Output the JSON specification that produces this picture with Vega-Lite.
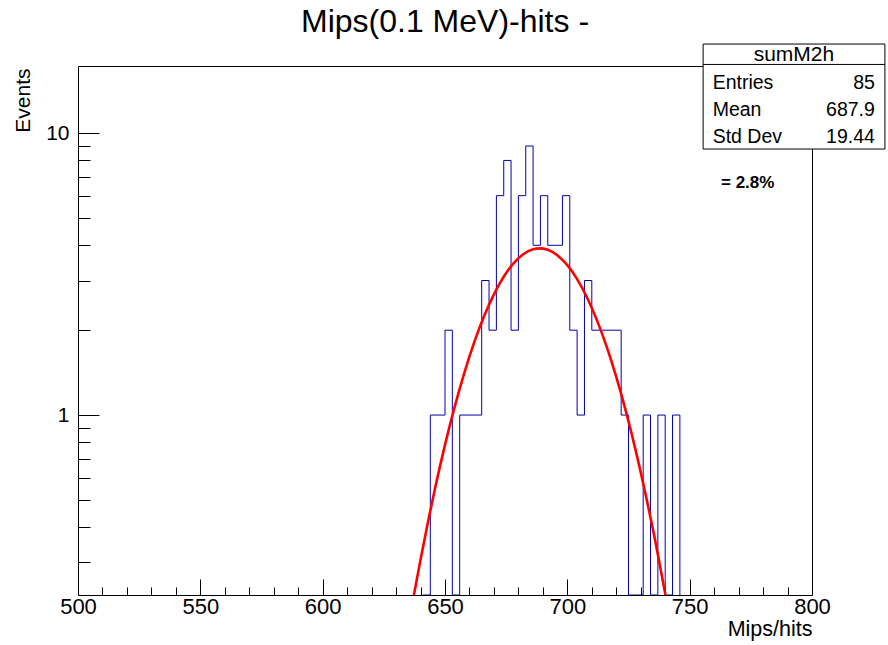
{
  "$schema": "https://vega.github.io/schema/vega-lite/v6.json",
  "autosize": {"type": "none"},
  "width": 734,
  "height": 529,
  "padding": {"left": 78, "top": 66, "right": 76, "bottom": 50},
  "background": "white",
  "title": {
    "text": "Mips(0.1 MeV)-hits -",
    "font": "Liberation Sans",
    "fontSize": 32,
    "fontWeight": "normal",
    "color": "#000000",
    "anchor": "middle",
    "frame": "group",
    "baseline": "alphabetic",
    "offset": 11,
    "dy": 31
  },
  "config": {
    "font": "Liberation Sans",
    "view": {"stroke": "#000000", "strokeWidth": 1}
  },
  "datasets": {
    "bins": [
      {"low": 641, "count": 0},
      {"low": 644, "count": 1},
      {"low": 647, "count": 1},
      {"low": 650, "count": 2},
      {"low": 653, "count": 0},
      {"low": 656, "count": 1},
      {"low": 659, "count": 1},
      {"low": 662, "count": 1},
      {"low": 665, "count": 3},
      {"low": 668, "count": 2},
      {"low": 671, "count": 6},
      {"low": 674, "count": 8},
      {"low": 677, "count": 2},
      {"low": 680, "count": 6},
      {"low": 683, "count": 9},
      {"low": 686, "count": 4},
      {"low": 689, "count": 6},
      {"low": 692, "count": 4},
      {"low": 695, "count": 4},
      {"low": 698, "count": 6},
      {"low": 701, "count": 2},
      {"low": 704, "count": 1},
      {"low": 707, "count": 3},
      {"low": 710, "count": 2},
      {"low": 713, "count": 2},
      {"low": 716, "count": 2},
      {"low": 719, "count": 2},
      {"low": 722, "count": 1},
      {"low": 725, "count": 0},
      {"low": 728, "count": 0},
      {"low": 731, "count": 1},
      {"low": 734, "count": 0},
      {"low": 737, "count": 1},
      {"low": 740, "count": 0},
      {"low": 743, "count": 1},
      {"low": 746, "count": 0}
    ],
    "fit": [
      {"x": 637.3, "f": 0.23},
      {"x": 638, "f": 0.248},
      {"x": 640, "f": 0.307},
      {"x": 643, "f": 0.416},
      {"x": 646, "f": 0.553},
      {"x": 650, "f": 0.784},
      {"x": 654, "f": 1.073},
      {"x": 658, "f": 1.42},
      {"x": 662, "f": 1.817},
      {"x": 666, "f": 2.245},
      {"x": 670, "f": 2.681},
      {"x": 674, "f": 3.094},
      {"x": 678, "f": 3.45},
      {"x": 682, "f": 3.717},
      {"x": 686, "f": 3.87},
      {"x": 688.7, "f": 3.9},
      {"x": 692, "f": 3.855},
      {"x": 696, "f": 3.683},
      {"x": 700, "f": 3.401},
      {"x": 704, "f": 3.035},
      {"x": 708, "f": 2.616},
      {"x": 712, "f": 2.18},
      {"x": 716, "f": 1.755},
      {"x": 720, "f": 1.365},
      {"x": 724, "f": 1.026},
      {"x": 728, "f": 0.745},
      {"x": 732, "f": 0.523},
      {"x": 736, "f": 0.355},
      {"x": 738, "f": 0.288},
      {"x": 740.1, "f": 0.23}
    ],
    "stats": [
      {"entries": "85", "mean": "687.9", "stddev": "19.44", "ratio": "= 2.8%"}
    ]
  },
  "resolve": {
    "scale": {"y": "independent"},
    "axis": {"x": "independent", "y": "independent"}
  },
  "layer": [
    {
      "data": {"name": "bins"},
      "mark": {"type": "line", "interpolate": "step-after", "color": "#0000b0", "strokeWidth": 1, "clip": true, "invalid": "show"},
      "encoding": {
        "x": {
          "field": "low",
          "type": "quantitative",
          "scale": {"domain": [500, 800], "nice": false, "zero": false},
          "axis": {
            "title": "Mips/hits",
            "titleFont": "Liberation Sans",
            "titleFontSize": 21.5,
            "titleFontWeight": "normal",
            "titleColor": "#000000",
            "titleAnchor": "end",
            "titleAlign": "right",
            "titleBaseline": "alphabetic",
            "titleX": 734,
            "titleY": 40,
            "values": [500, 510, 520, 530, 540, 550, 560, 570, 580, 590, 600, 610, 620, 630, 640, 650, 660, 670, 680, 690, 700, 710, 720, 730, 740, 750, 760, 770, 780, 790, 800],
            "labelExpr": "datum.value % 50 === 0 ? datum.label : ''",
            "labelFont": "Liberation Sans",
            "labelFontSize": 22,
            "labelColor": "#000000",
            "labelPadding": 17,
            "labelFlush": false,
            "labelOverlap": false,
            "labelBaseline": "top",
            "domain": false,
            "grid": false,
            "tickColor": "#000000",
            "tickWidth": 1,
            "tickSize": {"condition": {"test": "datum.value % 50 === 0", "value": -16}, "value": -8}
          }
        },
        "y": {
          "field": "count",
          "type": "quantitative",
          "scale": {"type": "log", "domain": [0.23, 17.3], "nice": false, "clamp": true},
          "axis": {
            "title": "Events",
            "titleFont": "Liberation Sans",
            "titleFontSize": 21,
            "titleFontWeight": "normal",
            "titleColor": "#000000",
            "titleAngle": -90,
            "titleAlign": "right",
            "titleBaseline": "alphabetic",
            "titleX": -49,
            "titleY": 2,
            "values": [0.3, 0.4, 0.5, 0.6, 0.7, 0.8, 0.9, 1, 2, 3, 4, 5, 6, 7, 8, 9, 10],
            "labelExpr": "datum.value === 1 || datum.value === 10 ? datum.label : ''",
            "labelFont": "Liberation Sans",
            "labelFontSize": 21,
            "labelColor": "#000000",
            "labelPadding": 30,
            "labelOverlap": false,
            "labelFlush": false,
            "domain": false,
            "grid": false,
            "tickColor": "#000000",
            "tickWidth": 1,
            "tickSize": {"condition": {"test": "datum.value === 1 || datum.value === 10", "value": -21}, "value": -12}
          }
        }
      }
    },
    {
      "layer": [
        {
          "data": {"name": "fit"},
          "mark": {"type": "line", "interpolate": "monotone", "color": "#ff0000", "strokeWidth": 2.6, "clip": true},
          "encoding": {
            "x": {"field": "x", "type": "quantitative", "axis": null},
            "y": {"field": "f", "type": "quantitative", "scale": {"type": "log", "domain": [0.23, 17.3], "nice": false}, "axis": null}
          }
        },
        {
          "data": {"name": "stats"},
          "mark": {"type": "rect", "fill": "#ffffff", "stroke": "#000000", "strokeWidth": 1},
          "encoding": {
            "x": {"datum": 755.5, "type": "quantitative", "axis": null},
            "x2": {"datum": 829.8},
            "y": {"datum": 20.7, "type": "quantitative"},
            "y2": {"datum": 8.78}
          }
        },
        {
          "data": {"name": "stats"},
          "mark": {"type": "rule", "stroke": "#000000", "strokeWidth": 1},
          "encoding": {
            "x": {"datum": 755.5, "type": "quantitative", "axis": null},
            "x2": {"datum": 829.8},
            "y": {"datum": 17.52, "type": "quantitative"}
          }
        },
        {
          "data": {"name": "stats"},
          "mark": {"type": "text", "text": "sumM2h", "font": "Liberation Sans", "fontSize": 21, "align": "center", "baseline": "middle", "color": "#000000"},
          "encoding": {
            "x": {"datum": 792.6, "type": "quantitative", "axis": null},
            "y": {"datum": 18.9, "type": "quantitative"}
          }
        },
        {
          "data": {"name": "stats"},
          "mark": {"type": "text", "text": ["Entries", "Mean", "Std Dev"], "lineHeight": 27, "font": "Liberation Sans", "fontSize": 19.5, "align": "left", "baseline": "alphabetic", "color": "#000000"},
          "encoding": {
            "x": {"datum": 759.4, "type": "quantitative", "axis": null},
            "y": {"datum": 14.3, "type": "quantitative"}
          }
        },
        {
          "data": {"name": "stats"},
          "mark": {"type": "text", "lineHeight": 27, "font": "Liberation Sans", "fontSize": 19.5, "align": "right", "baseline": "alphabetic", "color": "#000000"},
          "encoding": {
            "x": {"datum": 825.7, "type": "quantitative", "axis": null},
            "y": {"datum": 14.3, "type": "quantitative"},
            "text": {"value": ["85", "687.9", "19.44"]}
          }
        },
        {
          "data": {"name": "stats"},
          "mark": {"type": "text", "font": "Liberation Sans", "fontSize": 17, "fontWeight": "bold", "align": "left", "baseline": "middle", "color": "#000000"},
          "encoding": {
            "x": {"datum": 762.8, "type": "quantitative", "axis": null},
            "y": {"datum": 6.65, "type": "quantitative"},
            "text": {"field": "ratio"}
          }
        }
      ]
    }
  ]
}
